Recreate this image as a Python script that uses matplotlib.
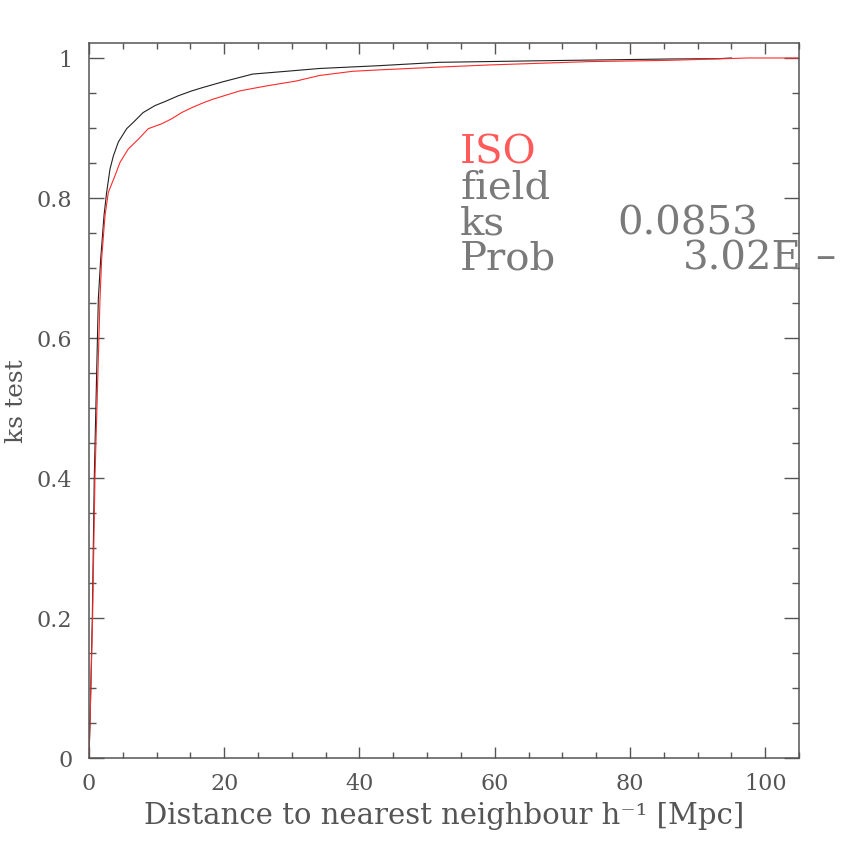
import matplotlib
matplotlib.use("Agg")
import matplotlib.pyplot as plt
from matplotlib.ticker import MultipleLocator, FuncFormatter

# cumulative distributions
field_dist = [0, 0.15, 0.49, 0.78, 1.38, 1.73, 2.22, 2.61, 3.1, 3.6, 4.34, 5.57,
              6.55, 8.0, 9.76, 11.2, 13.2, 15.2, 16.9, 19.8, 24.2, 29.2, 34.1,
              42.9, 51.8, 66.5, 86.1, 93.1, 95.0]
field_cdf = [0, 0.05, 0.2, 0.4, 0.656, 0.713, 0.775, 0.808, 0.841, 0.860, 0.880, 0.899,
             0.908, 0.922, 0.932, 0.9376, 0.946, 0.953, 0.958, 0.966, 0.977, 0.981, 0.985,
             0.989, 0.9938, 0.996, 0.9986, 0.999, 1.0]

iso_dist = [0, 0.05, 0.15, 0.53, 0.88, 1.63, 1.87, 2.37, 2.86, 3.85, 4.59, 5.81,
            7.3, 8.77, 10.75, 12.2, 13.7, 15.2, 16.9, 18.3, 22.3, 26.2, 30.6,
            34.1, 39.0, 42.9, 51.8, 59.1, 73.9, 86.1, 97.5, 104.9]
iso_cdf = [0, 0.02, 0.05, 0.2, 0.4, 0.656, 0.713, 0.775, 0.808, 0.832, 0.851, 0.870,
           0.884, 0.899, 0.906, 0.913, 0.922, 0.929, 0.936, 0.941, 0.953, 0.960, 0.967,
           0.975, 0.981, 0.983, 0.987, 0.990, 0.9948, 0.9967, 1.0, 1.0]

ks_value = "0.0853"
prob_value = "3.02E"

gray = "#555555"
light = "#7a7a7a"
plt.rcParams['font.family'] = ['DejaVu Serif']

fig = plt.figure(figsize=(8.45, 8.45), dpi=100)
ax = fig.add_axes([89/845, 86/845, 710/845, 715/845])

ax.plot(field_dist, field_cdf, color="#222222", lw=0.8)
ax.plot(iso_dist, iso_cdf, color="#ff2a2a", lw=0.8)

ax.set_xlim(0, 105)
ax.set_ylim(0, 1.0214)

ax.xaxis.set_major_locator(MultipleLocator(20))
ax.xaxis.set_minor_locator(MultipleLocator(5))
ax.yaxis.set_major_locator(MultipleLocator(0.2))
ax.yaxis.set_minor_locator(MultipleLocator(0.05))
ax.yaxis.set_major_formatter(FuncFormatter(lambda v, p: "%g" % round(v, 2)))

ax.tick_params(which='both', direction='in', top=True, right=True, colors=gray,
               labelcolor=gray, labelsize=16)
ax.tick_params(axis='x', which='major', length=8, width=1, pad=10)
ax.tick_params(axis='x', which='minor', length=4, width=1)
ax.tick_params(axis='y', which='major', length=11, width=1, pad=12)
ax.tick_params(axis='y', which='minor', length=5.3, width=1)
for s in ax.spines.values():
    s.set_color(gray)
    s.set_linewidth(1.1)

ax.set_xlabel("Distance to nearest neighbour h\u207b\u00b9 [Mpc]", fontsize=21,
              color=gray, labelpad=5)
ax.set_ylabel("ks test", fontsize=18, color=gray, labelpad=6)

big = 29
ax.text(54.9, 0.851, "ISO", fontsize=big, color="#ff5a5a", va='baseline')
ax.text(54.9, 0.799, "field", fontsize=big, color=light, va='baseline')
ax.text(54.9, 0.749, "ks", fontsize=big, color=light, va='baseline')
ax.text(78.1, 0.749, ks_value, fontsize=big, color=light, va='baseline')
ax.text(54.9, 0.699, "Prob", fontsize=big, color=light, va='baseline')
ax.text(87.8, 0.699, prob_value, fontsize=big, color=light, va='baseline', clip_on=True)
fig.text(815/845, 1 - 268/845, "\u2013", fontsize=big, color=light, va='baseline')

plt.savefig("out.png", dpi=100)
